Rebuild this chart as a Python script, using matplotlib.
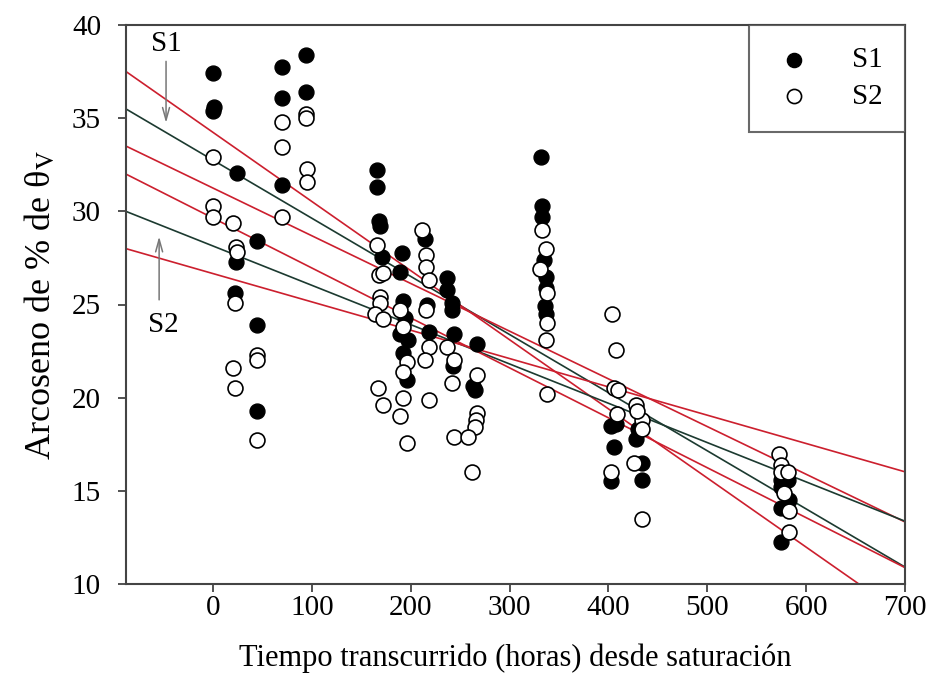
import numpy as np
import matplotlib
matplotlib.use("Agg")
import matplotlib.pyplot as plt

plt.rcParams['font.family'] = ['Liberation Serif', 'DejaVu Serif']
plt.rcParams['mathtext.fontset'] = 'stix'

# Soil S1 (filled circles)
s1_x = [0, 0, 1, 24, 23, 22, 45, 45, 45, 70, 70, 70, 94, 94,
        166, 166, 168, 169, 171, 191, 189, 192, 194, 189, 197, 192, 196,
        214, 219, 217, 237, 237, 242, 242, 244, 243, 267, 263, 265,
        332, 333, 333, 335, 337, 337, 336, 337,
        403, 406, 403, 408, 428, 434, 434, 430,
        575, 575, 575, 575, 582, 583]
s1_y = [37.4, 35.4, 35.6, 32.05, 27.3, 25.6, 28.4, 23.9, 19.3, 37.75, 36.1, 31.4, 38.4, 36.4,
        32.2, 31.3, 29.5, 29.2, 27.55, 27.75, 26.75, 25.2, 24.3, 23.4, 23.1, 22.4, 20.95,
        28.5, 23.5, 25.0, 26.4, 25.8, 25.1, 24.7, 23.4, 21.7, 22.9, 20.6, 20.4,
        32.9, 30.3, 29.7, 27.4, 26.5, 25.9, 24.9, 24.5,
        18.5, 17.35, 15.5, 18.6, 17.8, 16.5, 15.6, 18.3,
        15.6, 15.2, 14.1, 12.25, 15.6, 14.5]

# Soil S2 (open circles)
s2_x = [0, 0, 0, 20, 23, 24, 22, 20, 22, 45, 45, 45, 70, 70, 70, 94, 94, 95, 95,
        166, 168, 172, 169, 169, 164, 172, 167, 172,
        189, 192, 196, 192, 192, 189, 196,
        211, 215, 215, 219, 216, 219, 214, 219,
        237, 244, 242, 244, 267, 267, 266, 265, 258, 262,
        333, 331, 337, 338, 338, 337, 338,
        404, 408, 406, 409, 403, 410,
        428, 434, 434, 426, 434, 429,
        573, 575, 575, 582, 578, 583, 583]
s2_y = [32.9, 30.3, 29.7, 29.4, 28.1, 27.8, 25.1, 21.6, 20.5, 22.3, 22.0, 17.7, 34.8, 33.45, 29.7,
        35.2, 35.0, 32.3, 31.6,
        28.2, 26.6, 26.7, 25.4, 25.1, 24.5, 24.2, 20.5, 19.6,
        24.7, 23.8, 21.9, 21.4, 20.0, 19.0, 17.55,
        29.0, 27.65, 27.0, 26.3, 24.7, 22.7, 22.0, 19.9,
        22.7, 22.0, 20.8, 17.9, 21.2, 19.2, 18.8, 18.4, 17.9, 16.0,
        29.0, 26.9, 28.0, 25.6, 24.0, 23.1, 20.2,
        24.5, 22.55, 20.5, 19.1, 16.0, 20.4,
        19.6, 18.8, 18.3, 16.5, 13.5, 19.3,
        17.0, 16.4, 16.0, 16.0, 14.9, 13.9, 12.8]

# Fitted lines (value at t = 0, slope per hour) with their bands
fit_names = ['S1', 'S1 sup', 'S1 inf', 'S2', 'S2 sup', 'S2 inf']
fit_intercepts = [32.75, 34.24, 31.25, 28.14, 29.64, 26.66]
fit_slopes = [-0.0312, -0.0371, -0.0256, -0.0211, -0.0268, -0.0152]
fit_is_band = [False, True, True, False, True, True]

x_limits = (-88, 700)
y_limits = (10, 40)

fig = plt.figure(figsize=(9.3, 6.96), dpi=100)
ax = fig.add_axes([0.1355, 0.161, 0.8375, 0.803])

t = np.array(x_limits, dtype=float)
for b0, b1, band in zip(fit_intercepts, fit_slopes, fit_is_band):
    color = '#cc1f2e' if band else '#1c3a30'
    ax.plot(t, b0 + b1 * t, color=color, lw=1.2, zorder=2)

ax.scatter(s1_x, s1_y, s=115, c='black', edgecolors='black', linewidths=1.0,
           zorder=3, label='S1')
ax.scatter(s2_x, s2_y, s=115, facecolors='white', edgecolors='black', linewidths=1.2,
           zorder=4, label='S2')

ax.set_xlim(*x_limits)
ax.set_ylim(*y_limits)
ax.set_xticks(np.arange(0, 701, 100))
ax.set_yticks(np.arange(10, 41, 5))
ax.tick_params(direction='out', length=6, width=1.2, labelsize=21, colors='#333333',
               labelcolor='black')
ax.tick_params(axis='y', pad=12)
ax.tick_params(axis='x', pad=2)
for sp in ax.spines.values():
    sp.set_linewidth(1.5)
    sp.set_color('#444444')

ax.set_xlabel('Tiempo transcurrido (horas) desde saturación', fontsize=22, labelpad=16)
ax.set_ylabel('Arcoseno de % de θ$_{\\mathrm{V}}$', fontsize=26, labelpad=10)

# Series labels with arrows pointing at each fitted line
arrow_style = dict(arrowstyle='->,head_length=0.9,head_width=0.25', color='#777777', lw=1.1)
ax.text(-47, 39.0, 'S1', fontsize=21, ha='center', va='center')
ax.annotate('', xy=(-47.5, 34.6), xytext=(-47.5, 38.2), arrowprops=arrow_style)
ax.text(-50, 23.9, 'S2', fontsize=21, ha='center', va='center')
ax.annotate('', xy=(-54.5, 28.8), xytext=(-54.5, 25.1), arrowprops=arrow_style)

leg = ax.legend(loc='upper right', fontsize=21, frameon=True, fancybox=False,
                borderaxespad=0, markerscale=0.95, handletextpad=1.2,
                borderpad=0.75, labelspacing=0.35, handlelength=1.6)
leg.get_frame().set_edgecolor('#444444')
leg.get_frame().set_linewidth(1.5)

fig.savefig('out.png', dpi=100)
